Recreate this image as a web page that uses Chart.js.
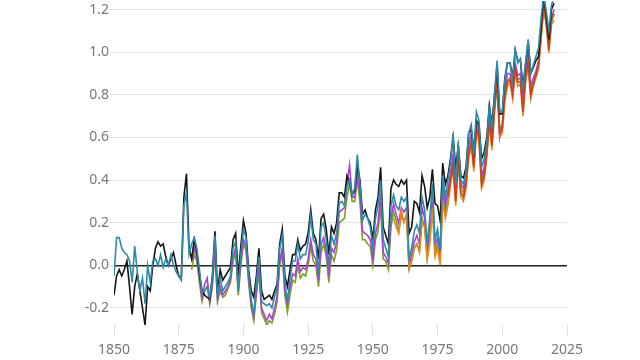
<!DOCTYPE html>
<html>
<head>
<meta charset="utf-8">
<script src="https://cdn.jsdelivr.net/npm/chart.js@4.4.1/dist/chart.umd.min.js"></script>
<style>
  html, body { margin: 0; padding: 0; background: #fff; }
  #wrap { width: 640px; height: 360px; }
</style>
</head>
<body>
<div id="wrap"><canvas id="myChart" width="640" height="360"></canvas></div>
<script>
// temperature anomaly series, one value per year from the given start year
var yTicks = [-0.2, 0.0, 0.2, 0.4, 0.6, 0.8, 1.0, 1.2];
var xTicks = [1850, 1875, 1900, 1925, 1950, 1975, 2000, 2025];

var blackStart = 1850;
var blackVals = [
  -0.14, -0.05, -0.02, -0.05, -0.02, 0.02, -0.10, -0.23, -0.10, -0.04,
  -0.12, -0.20, -0.28, -0.10, -0.12, 0.00, 0.08, 0.11, 0.09, 0.10,
  0.04, 0.00, 0.03, 0.06, 0.00, -0.05, -0.06, 0.32, 0.43, 0.08,
  0.03, 0.12, 0.06, -0.04, -0.12, -0.14, -0.15, -0.16, -0.05, 0.16,
  -0.13, -0.02, -0.07, -0.05, -0.03, -0.01, 0.12, 0.15, -0.05, 0.09,
  0.21, 0.15, -0.02, -0.12, -0.15, -0.05, 0.08, -0.12, -0.16, -0.15,
  -0.14, -0.16, -0.12, -0.09, 0.10, 0.17, -0.05, -0.10, -0.02, 0.05,
  0.05, 0.12, 0.07, 0.09, 0.10, 0.15, 0.26, 0.15, 0.12, 0.03,
  0.22, 0.24, 0.17, 0.05, 0.18, 0.15, 0.20, 0.34, 0.34, 0.32,
  0.42, 0.39, 0.33, 0.35, 0.47, 0.40, 0.24, 0.26, 0.22, 0.20,
  0.12, 0.26, 0.32, 0.46, 0.18, 0.14, 0.10, 0.36, 0.40, 0.38,
  0.37, 0.40, 0.38, 0.40, 0.15, 0.18, 0.30, 0.29, 0.25, 0.42,
  0.37, 0.27, 0.32, 0.45, 0.29, 0.28, 0.21, 0.48, 0.38, 0.42,
  0.50, 0.60, 0.46, 0.56, 0.42, 0.41, 0.46, 0.62, 0.64, 0.54,
  0.68, 0.66, 0.50, 0.53, 0.60, 0.75, 0.66, 0.80, 0.94, 0.71,
  0.71, 0.88, 0.95, 0.95, 0.88, 1.01, 0.96, 0.96, 0.84, 0.94,
  1.05, 0.90, 0.93, 0.96, 0.98, 1.12, 1.26, 1.17, 1.06, 1.20,
  1.23
];

var tealStart = 1850;
var tealVals = [
  -0.05, 0.13, 0.13, 0.08, 0.06, 0.05, 0.02, -0.08, 0.09, -0.03,
  -0.12, -0.06, -0.18, 0.00, -0.08, 0.02, 0.03, 0.00, 0.05, -0.01,
  0.03, 0.00, 0.05, 0.00, -0.03, -0.05, -0.07, 0.28, 0.34, 0.05,
  0.10, 0.13, 0.08, -0.02, -0.13, -0.12, -0.10, -0.15, -0.06, 0.14,
  -0.15, -0.06, -0.12, -0.10, -0.08, -0.05, 0.08, 0.11, -0.12, 0.05,
  0.17, 0.13, -0.04, -0.16, -0.23, -0.08, 0.04, -0.17, -0.18, -0.19,
  -0.18, -0.20, -0.15, -0.11, 0.08, 0.14, -0.08, -0.17, -0.06, 0.02,
  0.02, 0.10, 0.03, 0.05, 0.05, 0.11, 0.23, 0.12, 0.10, -0.04,
  0.18, 0.20, 0.12, 0.00, 0.14, 0.10, 0.15, 0.29, 0.30, 0.28,
  0.37, 0.40, 0.33, 0.36, 0.52, 0.38, 0.21, 0.24, 0.22, 0.18,
  0.08, 0.22, 0.28, 0.40, 0.12, 0.08, 0.04, 0.28, 0.33, 0.28,
  0.26, 0.32, 0.30, 0.32, 0.03, 0.08, 0.16, 0.19, 0.15, 0.32,
  0.26, 0.10, 0.22, 0.38, 0.12, 0.17, 0.07, 0.42, 0.32, 0.40,
  0.48, 0.62, 0.38, 0.58, 0.40, 0.38, 0.44, 0.62, 0.66, 0.52,
  0.72, 0.68, 0.46, 0.50, 0.58, 0.75, 0.64, 0.80, 0.96, 0.72,
  0.72, 0.87, 0.95, 0.95, 0.87, 1.01, 0.95, 0.97, 0.82, 0.95,
  1.06, 0.90, 0.94, 0.98, 1.02, 1.16, 1.27, 1.19, 1.10, 1.22,
  1.26
];

var purpleStart = 1880;
var purpleVals = [
  0.02, 0.08, 0.04, -0.05, -0.15, -0.09, -0.06, -0.17, -0.08, 0.08,
  -0.16, -0.10, -0.14, -0.12, -0.10, -0.06, 0.04, 0.08, -0.12, 0.02,
  0.12, 0.09, -0.06, -0.18, -0.24, -0.12, 0.00, -0.20, -0.23, -0.26,
  -0.23, -0.25, -0.20, -0.15, 0.02, 0.08, -0.12, -0.18, -0.10, -0.04,
  -0.05, 0.03, -0.03, -0.01, -0.02, 0.03, 0.12, 0.05, 0.03, -0.07,
  0.10, 0.13, 0.07, -0.05, 0.08, 0.06, 0.11, 0.25, 0.26, 0.27,
  0.38, 0.47, 0.32, 0.32, 0.44, 0.33, 0.16, 0.15, 0.14, 0.12,
  0.03, 0.15, 0.20, 0.34, 0.06, 0.04, 0.01, 0.22, 0.29, 0.24,
  0.20, 0.27, 0.25, 0.27, 0.00, 0.05, 0.11, 0.14, 0.10, 0.27,
  0.22, 0.07, 0.18, 0.33, 0.09, 0.13, 0.05, 0.37, 0.28, 0.35,
  0.43, 0.52, 0.34, 0.54, 0.38, 0.36, 0.41, 0.56, 0.62, 0.50,
  0.67, 0.64, 0.42, 0.46, 0.56, 0.71, 0.60, 0.77, 0.90, 0.60,
  0.66, 0.83, 0.90, 0.90, 0.83, 0.95, 0.89, 0.90, 0.77, 0.91,
  0.99, 0.84, 0.88, 0.91, 0.96, 1.11, 1.23, 1.15, 1.04, 1.16,
  1.20
];

var oliveStart = 1880;
var oliveVals = [
  -0.02, 0.05, 0.02, -0.08, -0.17, -0.12, -0.10, -0.18, -0.10, 0.06,
  -0.17, -0.12, -0.15, -0.14, -0.11, -0.08, 0.02, 0.06, -0.14, 0.00,
  0.10, 0.07, -0.08, -0.20, -0.26, -0.14, -0.03, -0.22, -0.25, -0.28,
  -0.26, -0.27, -0.23, -0.17, 0.00, 0.05, -0.14, -0.22, -0.14, -0.07,
  -0.08, 0.00, -0.06, -0.04, -0.05, 0.00, 0.09, 0.02, 0.00, -0.10,
  0.06, 0.10, 0.04, -0.08, 0.05, 0.02, 0.07, 0.20, 0.21, 0.22,
  0.32, 0.38, 0.30, 0.30, 0.40, 0.30, 0.12, 0.12, 0.10, 0.09,
  0.00, 0.12, 0.16, 0.28, 0.03, 0.02, -0.02, 0.18, 0.25, 0.21,
  0.16, 0.23, 0.21, 0.23, -0.02, 0.02, 0.08, 0.10, 0.07, 0.22,
  0.18, 0.03, 0.13, 0.29, 0.06, 0.10, 0.02, 0.33, 0.25, 0.31,
  0.40, 0.48, 0.32, 0.50, 0.36, 0.34, 0.39, 0.52, 0.58, 0.48,
  0.65, 0.62, 0.40, 0.44, 0.53, 0.68, 0.58, 0.74, 0.86, 0.64,
  0.66, 0.80, 0.87, 0.88, 0.80, 0.92, 0.87, 0.88, 0.75, 0.89,
  0.96, 0.82, 0.86, 0.89, 0.94, 1.08, 1.20, 1.13, 1.02, 1.14,
  1.18
];

var orangeStart = 1958;
var orangeVals = [
  0.22, 0.18, 0.15, 0.26, 0.20, 0.24, -0.01, 0.02, 0.08, 0.10,
  0.06, 0.20, 0.18, 0.03, 0.10, 0.27, 0.04, 0.08, 0.00, 0.30,
  0.22, 0.28, 0.38, 0.45, 0.28, 0.48, 0.32, 0.30, 0.36, 0.50,
  0.56, 0.44, 0.62, 0.58, 0.36, 0.40, 0.50, 0.66, 0.54, 0.72,
  0.84, 0.60, 0.62, 0.77, 0.84, 0.86, 0.78, 0.90, 0.84, 0.85,
  0.70, 0.86, 0.93, 0.78, 0.84, 0.88, 0.92, 1.06, 1.22, 1.12,
  1.00, 1.13, 1.15
];

var redStart = 1979;
var redVals = [
  0.32, 0.40, 0.47, 0.30, 0.50, 0.34, 0.32, 0.38, 0.52, 0.58,
  0.46, 0.64, 0.60, 0.38, 0.42, 0.52, 0.68, 0.56, 0.74, 0.86,
  0.62, 0.64, 0.80, 0.86, 0.87, 0.80, 0.92, 0.86, 0.86, 0.72,
  0.88, 0.95, 0.80, 0.85, 0.89, 0.94, 1.08, 1.24, 1.14, 1.01,
  1.16, 1.18
];

function toPoints(start, vals) {
  return vals.map(function (v, i) { return { x: start + i, y: v }; });
}

function lineSet(label, start, vals, color) {
  return {
    label: label,
    data: toPoints(start, vals),
    borderColor: color,
    backgroundColor: color,
    borderWidth: 1.6,
    pointRadius: 0,
    tension: 0,
    fill: false
  };
}

var config = {
  type: 'line',
  data: {
    datasets: [
      lineSet('teal', tealStart, tealVals, '#2f8aa8'),
      lineSet('black', blackStart, blackVals, '#161616'),
      lineSet('red', redStart, redVals, '#c9431e'),
      lineSet('orange', orangeStart, orangeVals, '#e5881f'),
      lineSet('purple', purpleStart, purpleVals, '#a744d6'),
      lineSet('olive', oliveStart, oliveVals, '#7e9b24')
    ]
  },
  options: {
    responsive: false,
    animation: false,
    layout: { padding: { top: 1, right: 73, left: 0, bottom: 0 } },
    plugins: { legend: { display: false }, tooltip: { enabled: false } },
    scales: {
      x: {
        type: 'linear',
        min: 1850,
        max: 2025,
        afterFit: function (s) { s.height = 35; s.paddingLeft = 0; s.paddingRight = 0; },
        afterBuildTicks: function (s) { s.ticks = xTicks.map(function (v) { return { value: v }; }); },
        border: { display: false },
        grid: { drawOnChartArea: false, drawTicks: true, tickLength: 10, color: '#dddddd' },
        ticks: {
          padding: 7,
          color: '#777777',
          font: { family: 'Noto Sans', size: 14 },
          maxRotation: 0,
          callback: function (v) { return String(v); }
        }
      },
      y: {
        min: -0.28,
        max: 1.24,
        afterFit: function (s) { s.width = 114; s.paddingTop = 0; s.paddingBottom = 0; },
        afterBuildTicks: function (s) { s.ticks = yTicks.map(function (v) { return { value: v }; }); },
        border: { display: false },
        grid: {
          drawTicks: true,
          tickLength: 4,
          tickColor: '#dddddd',
          color: function (c) { return c.tick && Math.abs(c.tick.value) < 1e-9 ? '#222222' : '#e4e4e4'; },
          lineWidth: function (c) { return c.tick && Math.abs(c.tick.value) < 1e-9 ? 1.6 : 1; }
        },
        ticks: {
          padding: 1,
          color: '#777777',
          font: { family: 'Noto Sans', size: 14 },
          callback: function (v) { return Number(v).toFixed(1); }
        }
      }
    }
  }
};

var ctx = document.getElementById('myChart').getContext('2d');
var myChart = new Chart(ctx, config);
</script>
</body>
</html>
